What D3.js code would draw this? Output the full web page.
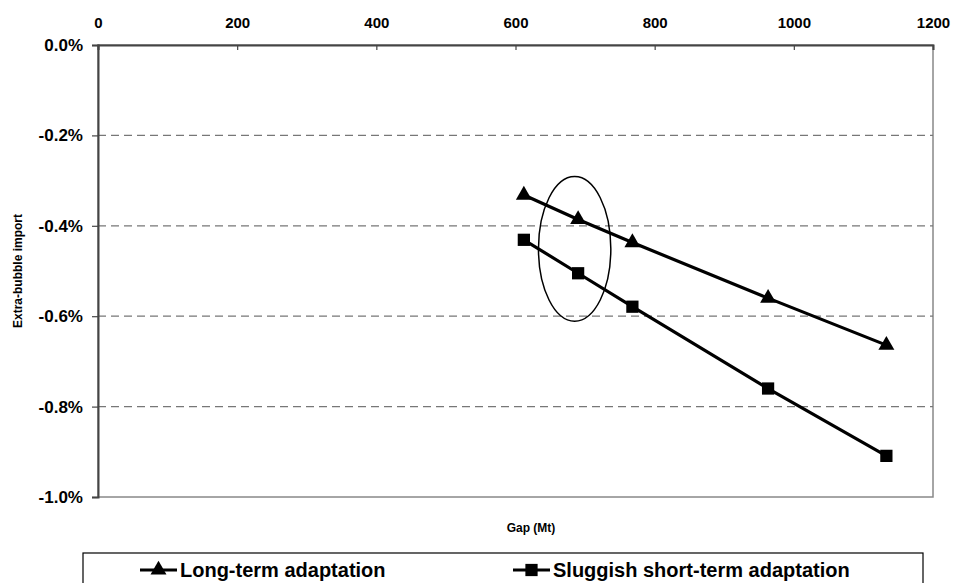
<!DOCTYPE html>
<html>
<head>
<meta charset="utf-8">
<script src="https://cdn.jsdelivr.net/npm/d3@7"></script>
<style>
  html, body { margin: 0; padding: 0; background: #fff; }
  svg { display: block; font-family: Arial, "Liberation Sans", sans-serif; }
</style>
</head>
<body>
<svg id="chart" width="953" height="583"></svg>
<script>
// ---- data ----
const gapMt = [612, 690, 768, 963, 1133];
const longTerm = [-0.00332, -0.00386, -0.00437, -0.00560, -0.00664];
const sluggish = [-0.00431, -0.00505, -0.00579, -0.00760, -0.00909];
const seriesNames = ["Long-term adaptation", "Sluggish short-term adaptation"];
const xTicks = [0, 200, 400, 600, 800, 1000, 1200];
const yTicks = [0, -0.002, -0.004, -0.006, -0.008, -0.010];
const xTitle = "Gap (Mt)";
const yTitle = "Extra-bubble import";
// annotation ellipse (data units): center x, center y, half-width x, half-height y
const ellipseCenter = [685, -0.00451];
const ellipseRadius = [52, 0.00160];

// ---- layout ----
const W = 953, H = 583;
const m = { left: 98, right: 20, top: 45, bottom: 86 };
const x = d3.scaleLinear().domain([0, 1200]).range([m.left, W - m.right]);
const y = d3.scaleLinear().domain([-0.010, 0]).range([497, m.top]);

const svg = d3.select("#chart");
const pct = v => d3.format(".1%")(v).replace("\u2212", "-");

// plot border (right/bottom gray)
svg.append("rect")
  .attr("x", x(0)).attr("y", y(0))
  .attr("width", x(1200) - x(0)).attr("height", y(-0.01) - y(0))
  .attr("fill", "none").attr("stroke", "#888").attr("stroke-width", 1.5);

// gridlines
svg.append("g").selectAll("line")
  .data(yTicks.filter(d => d !== 0 && d !== -0.010))
  .join("line")
  .attr("x1", x(0)).attr("x2", x(1200))
  .attr("y1", d => y(d)).attr("y2", d => y(d))
  .attr("stroke", "#777").attr("stroke-width", 1.3)
  .attr("stroke-dasharray", "8,5");

// top x axis (ticks inside)
const xAxis = d3.axisTop(x).tickValues(xTicks).tickSize(-5).tickPadding(12).tickFormat(d3.format("d"));
const gx = svg.append("g").attr("transform", `translate(0,${y(0)})`).call(xAxis);
gx.select(".domain").attr("stroke", "#444").attr("stroke-width", 2);
gx.selectAll(".tick line").attr("stroke", "#444").attr("stroke-width", 1.2);
gx.selectAll(".tick text")
  .attr("font-size", 15).attr("font-weight", "bold").attr("fill", "#000")
  .attr("dy", "0em").attr("y", -17);

// left y axis
const yAxis = d3.axisLeft(y).tickValues(yTicks).tickSize(6).tickPadding(9).tickFormat(pct);
const gy = svg.append("g").attr("transform", `translate(${x(0)},0)`).call(yAxis);
gy.select(".domain").attr("stroke", "#444").attr("stroke-width", 2);
gy.selectAll(".tick line").attr("stroke", "#444").attr("stroke-width", 1.2);
gy.selectAll(".tick text")
  .attr("font-size", 17).attr("font-weight", "bold").attr("fill", "#000");

// axis titles
svg.append("text")
  .attr("x", 531).attr("y", 532)
  .attr("text-anchor", "middle").attr("font-size", 12).attr("font-weight", "bold")
  .text(xTitle);
svg.append("text")
  .attr("transform", `translate(22,${(y(0) + y(-0.01)) / 2}) rotate(-90)`)
  .attr("text-anchor", "middle").attr("font-size", 12).attr("font-weight", "bold")
  .text(yTitle);

// series
const line = d3.line().x((d, i) => x(gapMt[i])).y(d => y(d));
const tri = d3.symbol().type(d3.symbolTriangle).size(110);
const sq = d3.symbol().type(d3.symbolSquare).size(150);

[[longTerm, tri], [sluggish, sq]].forEach(([vals, sym]) => {
  svg.append("path").datum(vals)
    .attr("d", line).attr("fill", "none")
    .attr("stroke", "#000").attr("stroke-width", 3.2);
  svg.append("g").selectAll("path").data(vals).join("path")
    .attr("transform", (d, i) => `translate(${x(gapMt[i])},${y(d)})`)
    .attr("d", sym).attr("fill", "#000");
});

// annotation ellipse
svg.append("ellipse")
  .attr("cx", x(ellipseCenter[0])).attr("cy", y(ellipseCenter[1]))
  .attr("rx", x(ellipseRadius[0]) - x(0)).attr("ry", y(0) - y(ellipseRadius[1]))
  .attr("fill", "none").attr("stroke", "#000").attr("stroke-width", 1.5);

// legend
const lg = svg.append("g");
lg.append("rect").attr("x", 83).attr("y", 553).attr("width", 840).attr("height", 40)
  .attr("fill", "#fff").attr("stroke", "#000").attr("stroke-width", 1.2);
const legendItems = [
  { name: seriesNames[0], sym: tri, lx: 140 },
  { name: seriesNames[1], sym: sq, lx: 513 }
];
legendItems.forEach(it => {
  lg.append("line").attr("x1", it.lx).attr("x2", it.lx + 37)
    .attr("y1", 570).attr("y2", 570).attr("stroke", "#000").attr("stroke-width", 3.2);
  lg.append("path").attr("transform", `translate(${it.lx + 18.5},570)`)
    .attr("d", it.sym).attr("fill", "#000");
  lg.append("text").attr("x", it.lx + 40).attr("y", 577)
    .attr("font-size", 20).attr("font-weight", "bold").text(it.name);
});
</script>
</body>
</html>
